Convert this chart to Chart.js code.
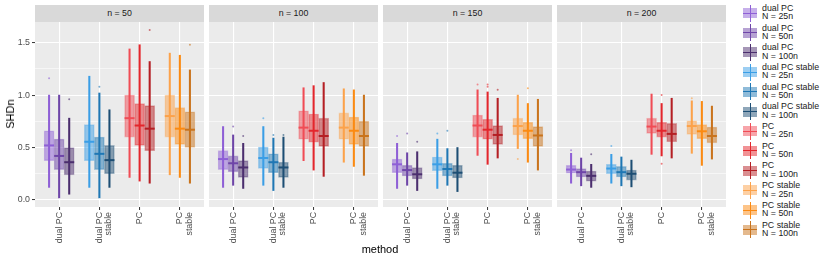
<!DOCTYPE html>
<html lang="en">
<head>
<meta charset="UTF-8">
<title>SHDn by method</title>
<script src="https://cdn.jsdelivr.net/npm/chart.js"></script>
<style>
  body { margin: 0; background: #fff; font-family: "Liberation Sans", Arial, sans-serif; }
  #wrap { position: relative; width: 830px; height: 260px; overflow: hidden; }
  #wrap canvas { position: absolute; top: 22px; }
  .strip { position: absolute; top: 5px; height: 17px; line-height: 17px; background: #d9d9d9;
           color: #1a1a1a; font-size: 8.8px; text-align: center; }
  .ytitle { position: absolute; left: 10px; top: 114px; transform: translate(-50%, -50%) rotate(-90deg);
            font-size: 11px; color: #000; }
  .xtitle { position: absolute; left: 380px; top: 249px; transform: translate(-50%, -50%);
            font-size: 11px; color: #000; }
  .lkey { position: absolute; left: 743px; width: 14px; height: 17px; }
  .lkey .box { position: absolute; left: 0; top: 3.5px; width: 14px; height: 10px; }
  .lkey .stem { position: absolute; left: 6.5px; top: 0; width: 1px; height: 17px; }
  .lkey .med { position: absolute; left: 0; top: 8px; width: 14px; height: 1px; }
  .ltext { position: absolute; left: 762px; font-size: 8.8px; line-height: 8.4px; color: #1a1a1a; white-space: pre; }
</style>
</head>
<body>
<div id="wrap">
  <canvas id="p0" width="204" height="223" style="left:0px"></canvas>
  <canvas id="p1" width="169" height="223" style="left:209px"></canvas>
  <canvas id="p2" width="169" height="223" style="left:383px"></canvas>
  <canvas id="p3" width="169" height="223" style="left:557px"></canvas>
  <div class="ytitle">SHDn</div>
  <div class="xtitle">method</div>
</div>
<script>
const panels = ['n = 50', 'n = 100', 'n = 150', 'n = 200'];
const methods = ['dual PC', 'dual PC stable', 'PC', 'PC stable'];
const methodLabels = [['dual PC'], ['dual PC', 'stable'], ['PC'], ['PC', 'stable']];
const sampleSizes = ['N = 25n', 'N = 50n', 'N = 100n'];
const yTicks = [0, 0.25, 0.5, 0.75, 1, 1.25, 1.5];

// one row per method x N: [lower whisker, q1, median, q3, upper whisker]
const stats50 = [
  [0.12, 0.375, 0.52, 0.66, 1.00], [0.02, 0.29, 0.42, 0.58, 1.00], [0.055, 0.24, 0.36, 0.50, 0.78],
  [0.12, 0.375, 0.555, 0.72, 1.18], [0.02, 0.29, 0.44, 0.60, 1.02], [0.12, 0.25, 0.38, 0.52, 0.86],
  [0.215, 0.60, 0.78, 1.00, 1.44], [0.18, 0.52, 0.71, 0.92, 1.48], [0.16, 0.47, 0.68, 0.90, 1.32],
  [0.24, 0.60, 0.80, 1.00, 1.40], [0.215, 0.53, 0.68, 0.88, 1.38], [0.16, 0.50, 0.67, 0.84, 1.24]
];
const stats100 = [
  [0.12, 0.29, 0.39, 0.47, 0.70], [0.14, 0.27, 0.35, 0.42, 0.62], [0.11, 0.215, 0.31, 0.375, 0.54],
  [0.14, 0.30, 0.40, 0.505, 0.70], [0.09, 0.26, 0.36, 0.44, 0.59], [0.12, 0.215, 0.31, 0.36, 0.60],
  [0.375, 0.58, 0.69, 0.85, 1.07], [0.285, 0.55, 0.66, 0.82, 1.09], [0.225, 0.51, 0.61, 0.78, 1.12],
  [0.36, 0.58, 0.69, 0.83, 1.06], [0.32, 0.53, 0.66, 0.79, 1.05], [0.235, 0.51, 0.61, 0.75, 1.00]
];
const stats150 = [
  [0.11, 0.26, 0.34, 0.39, 0.54], [0.14, 0.23, 0.285, 0.33, 0.45], [0.09, 0.20, 0.245, 0.31, 0.46],
  [0.11, 0.28, 0.34, 0.41, 0.58], [0.14, 0.23, 0.295, 0.35, 0.49], [0.08, 0.21, 0.26, 0.33, 0.50],
  [0.425, 0.60, 0.71, 0.81, 1.05], [0.34, 0.58, 0.67, 0.77, 1.03], [0.40, 0.53, 0.62, 0.71, 0.97],
  [0.49, 0.62, 0.705, 0.78, 1.00], [0.36, 0.585, 0.66, 0.74, 0.92], [0.285, 0.51, 0.615, 0.70, 0.96]
];
const stats200 = [
  [0.16, 0.255, 0.29, 0.33, 0.445], [0.135, 0.22, 0.265, 0.30, 0.40], [0.12, 0.18, 0.23, 0.275, 0.34],
  [0.16, 0.25, 0.30, 0.34, 0.435], [0.135, 0.22, 0.265, 0.32, 0.41], [0.125, 0.19, 0.25, 0.285, 0.38],
  [0.435, 0.635, 0.70, 0.78, 1.01], [0.42, 0.60, 0.66, 0.74, 0.92], [0.40, 0.555, 0.63, 0.73, 0.97],
  [0.445, 0.625, 0.705, 0.755, 0.945], [0.33, 0.585, 0.655, 0.72, 0.94], [0.39, 0.545, 0.61, 0.695, 0.895]
];
// isolated points beyond the whiskers: [series index, value]
const outliers50 = [[0, 1.16], [2, 0.96], [4, 1.08], [8, 1.62], [11, 1.48]];
const outliers100 = [[1, 0.70], [2, 0.61], [3, 0.78], [4, 0.62], [5, 0.62]];
const outliers150 = [[0, 0.61], [1, 0.635], [2, 0.555], [3, 0.635], [4, 0.66], [6, 1.10], [7, 1.10], [7, 1.08], [8, 1.05], [9, 0.39], [10, 1.065]];
const outliers200 = [[0, 0.475], [2, 0.435], [3, 0.515], [7, 1.00], [7, 0.345], [9, 0.97]];

const seriesColors = [
  '#8e5fd6', '#6e45a8', '#4b2e6e',
  '#3a9ee6', '#1f77b4', '#1d4e74',
  '#f04c55', '#e3262c', '#b51f24',
  '#fca24a', '#fb8a12', '#c9731c'
];

function alpha(hex, a) {
  const n = parseInt(hex.slice(1), 16);
  return `rgba(${n >> 16}, ${(n >> 8) & 255}, ${n & 255}, ${a})`;
}
function xPos(i) {
  return Math.floor(i / 3) + 1 + (i % 3 - 1) * 0.25;
}

const panelBg = {
  id: 'panelBg',
  beforeDraw(chart) {
    const { ctx, chartArea: a } = chart;
    ctx.save();
    ctx.fillStyle = '#ebebeb';
    ctx.fillRect(a.left, a.top, a.right - a.left, a.bottom - a.top);
    ctx.restore();
  }
};

const tickFont = { family: '"Liberation Sans", Arial, sans-serif', size: 8.8, lineHeight: 1.05 };

function buildPanel(id, stats, outs, first) {
  const whiskers = stats.map((s, i) => ({ x: xPos(i), y: [s[0], s[4]] }));
  const boxes = stats.map((s, i) => ({ x: xPos(i), y: [s[1], s[3]] }));
  const medians = stats.map((s, i) => ({ x: xPos(i), y: s[2] }));
  const points = outs.map(o => ({ x: xPos(o[0]), y: o[1] }));

  new Chart(document.getElementById(id), {
    type: 'bar',
    data: {
      datasets: [
        { type: 'bar', data: whiskers, order: 4, grouped: false, barThickness: 1.4,
          backgroundColor: seriesColors },
        { type: 'bar', data: boxes, order: 3, grouped: false, barThickness: 10,
          backgroundColor: seriesColors.map(c => alpha(c, 0.5)),
          borderColor: seriesColors.map(c => alpha(c, 0.35)), borderWidth: 0.8, borderSkipped: false },
        { type: 'scatter', data: medians, order: 1, pointStyle: 'line', radius: 5, borderWidth: 2,
          borderColor: seriesColors },
        { type: 'scatter', data: points, order: 2, radius: 1, borderWidth: 0,
          backgroundColor: outs.map(o => alpha(seriesColors[o[0]], 0.6)) }
      ]
    },
    options: {
      responsive: false,
      animation: false,
      layout: { padding: 0, autoPadding: false },
      plugins: { legend: { display: false }, tooltip: { enabled: false } },
      scales: {
        x: {
          type: 'linear', min: 0.4, max: 4.6, offset: false,
          afterBuildTicks: s => { s.ticks = [1, 2, 3, 4].map(v => ({ value: v })); },
          afterFit: s => { s.height = 38; s.paddingLeft = 0; s.paddingRight = 0; },
          border: { display: false },
          grid: { offset: false, color: '#ffffff', lineWidth: 1.1, drawTicks: true,
                  tickLength: 3, tickColor: '#333333', tickWidth: 1 },
          ticks: { autoSkip: false, minRotation: 90, maxRotation: 90, padding: 2,
                   color: '#4d4d4d', font: tickFont,
                   callback: v => methodLabels[v - 1] }
        },
        y: {
          min: -0.067, max: 1.697,
          afterBuildTicks: s => { s.ticks = yTicks.map(v => ({ value: v })); },
          afterFit: s => { s.width = first ? 35 : 0; s.paddingTop = 0; s.paddingBottom = 0; },
          border: { display: false },
          grid: {
            color: '#ffffff',
            lineWidth: c => (c.tick && c.tick.value % 0.5 === 0) ? 1.1 : 0.55,
            drawTicks: first, tickLength: 3, tickWidth: 1,
            tickColor: c => (c.tick && c.tick.value % 0.5 === 0) ? '#333333' : 'rgba(0,0,0,0)'
          },
          ticks: { display: first, padding: 2, color: '#4d4d4d', font: tickFont,
                   callback: v => (v % 0.5 === 0) ? v.toFixed(1) : '' }
        }
      }
    },
    plugins: [panelBg]
  });
}

buildPanel('p0', stats50, outliers50, true);
buildPanel('p1', stats100, outliers100, false);
buildPanel('p2', stats150, outliers150, false);
buildPanel('p3', stats200, outliers200, false);

// facet strips
const wrap = document.getElementById('wrap');
const panelLefts = [35, 209, 383, 557];
panels.forEach((t, k) => {
  const d = document.createElement('div');
  d.className = 'strip';
  d.style.left = panelLefts[k] + 'px';
  d.style.width = '169px';
  d.textContent = t;
  wrap.appendChild(d);
});

// legend
seriesColors.forEach((c, i) => {
  const centre = 13 + i * 19.7;
  const key = document.createElement('div');
  key.className = 'lkey';
  key.style.top = (centre - 8.5) + 'px';
  key.innerHTML = `<div class="stem" style="background:${c}"></div>` +
    `<div class="box" style="background:${alpha(c, 0.5)}"></div>` +
    `<div class="med" style="background:${c}"></div>`;
  wrap.appendChild(key);
  const txt = document.createElement('div');
  txt.className = 'ltext';
  txt.style.top = (centre - 9.2) + 'px';
  txt.textContent = methods[Math.floor(i / 3)] + '\n' + sampleSizes[i % 3];
  wrap.appendChild(txt);
});
</script>
</body>
</html>
